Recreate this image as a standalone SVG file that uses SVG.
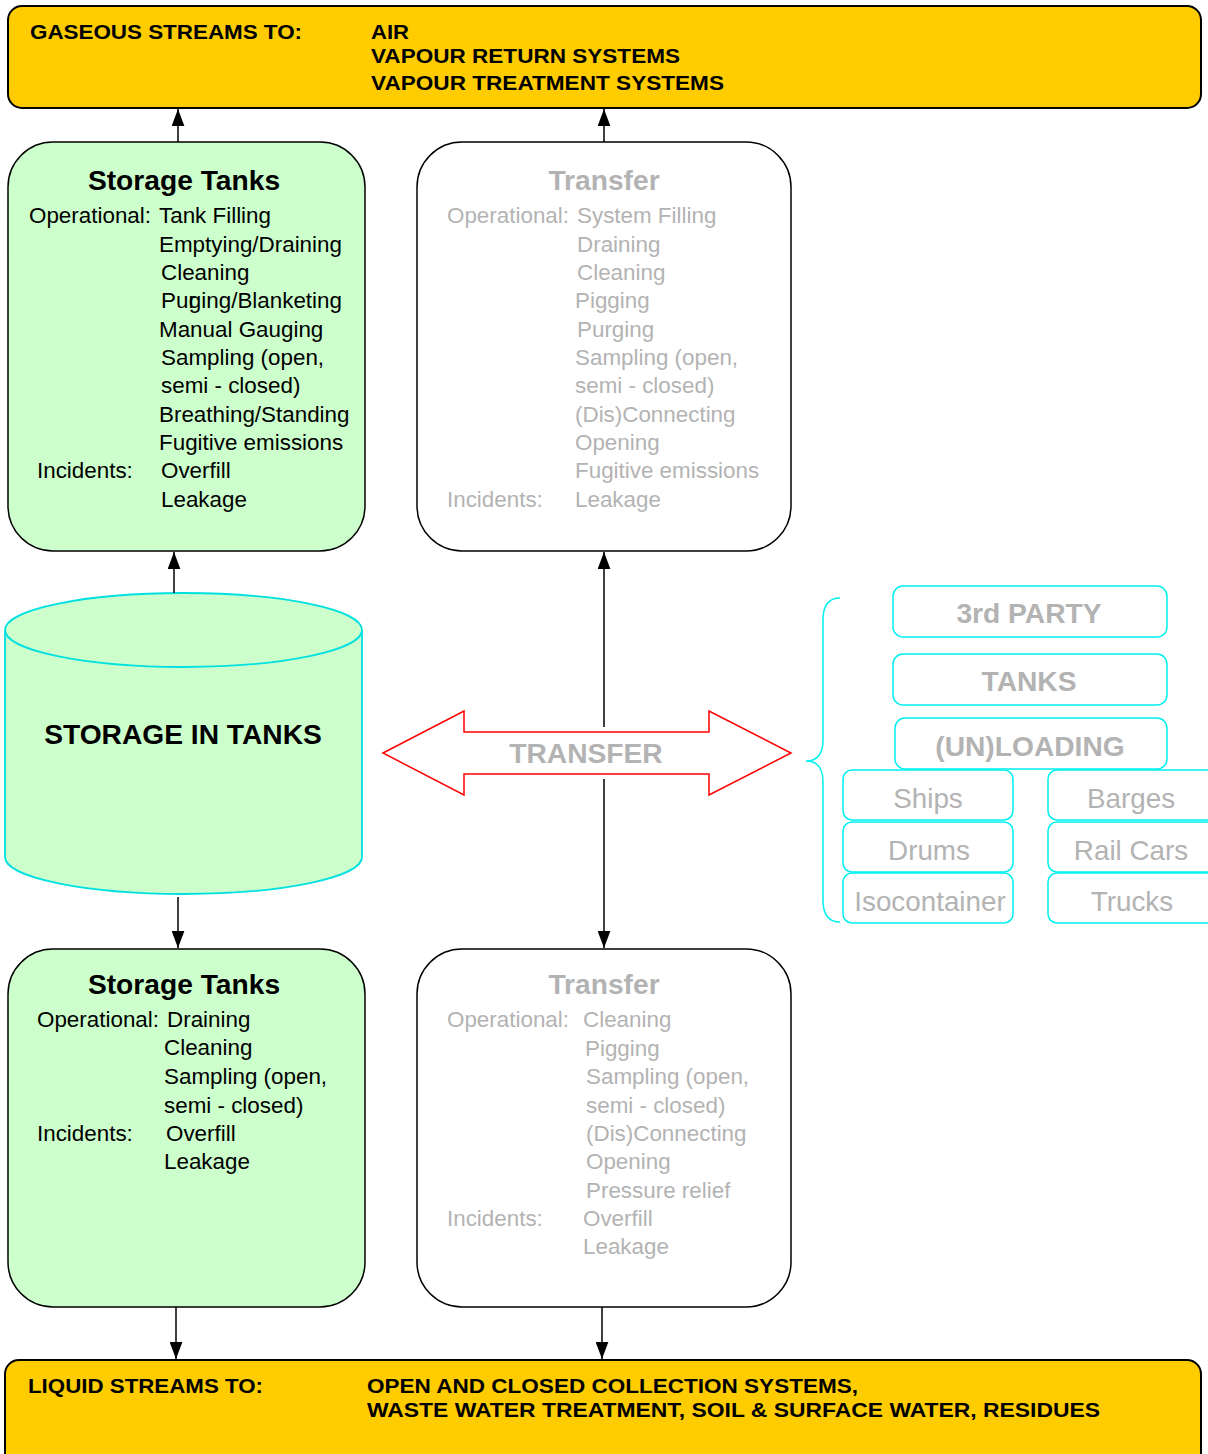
<svg xmlns="http://www.w3.org/2000/svg" width="1208" height="1454" viewBox="0 0 1208 1454">
<defs>
<marker id="ah" markerUnits="userSpaceOnUse" markerWidth="17" markerHeight="13" refX="16" refY="6" orient="auto" viewBox="0 0 16 12">
<path d="M0,0 L16,6 L0,12 z" fill="#000"/>
</marker>
<style>
.hdr{font-family:"Liberation Sans",Arial,sans-serif;font-weight:bold;font-size:21px;fill:#000}
.ttl{font-family:"Liberation Sans",Arial,sans-serif;font-weight:bold;font-size:28.2px;text-anchor:middle}
.bd{font-family:"Liberation Sans",Arial,sans-serif;font-size:22.4px}
.blk{fill:#000}
.gry{fill:#B3B3B3}
.grn{fill:#CCFFCC;stroke:#000;stroke-width:1.5}
.wht{fill:#FFFFFF;stroke:#000;stroke-width:1.5}
.yel{fill:#FFCC00;stroke:#000;stroke-width:2}
.cy{fill:#FFFFFF;stroke:#00F0F0;stroke-width:1.5}
.cyt{font-family:"Liberation Sans",Arial,sans-serif;font-size:27.8px;fill:#B3B3B3;text-anchor:middle}
.cytb{font-family:"Liberation Sans",Arial,sans-serif;font-weight:bold;font-size:28.2px;fill:#B3B3B3;text-anchor:middle}
.conn{stroke:#000;stroke-width:1.5;fill:none;marker-end:url(#ah)}
</style>
</defs>
<rect width="1208" height="1454" fill="#FFFFFF"/>

<g id="gaseous">
<rect class="yel" x="8" y="6" width="1193" height="102" rx="14"/>
<text class="hdr" x="30" y="39" textLength="272" lengthAdjust="spacingAndGlyphs">GASEOUS STREAMS TO:</text>
<text class="hdr" x="371" y="39" textLength="38" lengthAdjust="spacingAndGlyphs">AIR</text>
<text class="hdr" x="371" y="63" textLength="309" lengthAdjust="spacingAndGlyphs">VAPOUR RETURN SYSTEMS</text>
<text class="hdr" x="371" y="90" textLength="353" lengthAdjust="spacingAndGlyphs">VAPOUR TREATMENT SYSTEMS</text>
</g>

<g id="storage-tanks-top">
<rect class="grn" x="8" y="142" width="357" height="409" rx="45"/>
<text class="ttl blk" x="184" y="190">Storage Tanks</text>
<g class="bd blk">
<text x="29" y="223">Operational: </text>
<text x="159" y="223">Tank Filling</text>
<text x="159" y="252">Emptying/Draining</text>
<text x="161" y="280">Cleaning</text>
<text x="161" y="308" dx="0 0 0 -7">Purging/Blanketing</text>
<text x="159" y="337">Manual Gauging</text>
<text x="161" y="365">Sampling (open,</text>
<text x="161" y="393">semi - closed)</text>
<text x="159" y="422">Breathing/Standing</text>
<text x="159" y="450">Fugitive emissions</text>
<text x="37" y="478">Incidents:</text>
<text x="161" y="478">Overfill</text>
<text x="161" y="507">Leakage</text>
</g>
</g>

<g id="transfer-top">
<rect class="wht" x="417" y="142" width="374" height="409" rx="45"/>
<text class="ttl gry" x="604" y="190">Transfer</text>
<g class="bd gry">
<text x="447" y="223">Operational:</text>
<text x="577" y="223">System Filling</text>
<text x="577" y="252">Draining</text>
<text x="577" y="280">Cleaning</text>
<text x="575" y="308">Pigging</text>
<text x="577" y="337">Purging</text>
<text x="575" y="365">Sampling (open,</text>
<text x="575" y="393">semi - closed)</text>
<text x="575" y="422">(Dis)Connecting</text>
<text x="575" y="450">Opening</text>
<text x="575" y="478">Fugitive emissions</text>
<text x="447" y="507">Incidents:</text>
<text x="575" y="507">Leakage</text>
</g>
</g>

<g id="storage-in-tanks">
<path d="M5,630 L5,857 A178.5,37 0 0 0 362,857 L362,630" fill="#CCFFCC" stroke="#00E0E0" stroke-width="1.8"/>
<ellipse cx="183.5" cy="630" rx="178.5" ry="37" fill="#CCFFCC" stroke="#00E0E0" stroke-width="1.8"/>
<text x="183" y="744" font-family="Liberation Sans, Arial, sans-serif" font-weight="bold" font-size="28.2" text-anchor="middle" fill="#000">STORAGE IN TANKS</text>
</g>

<g id="transfer-arrow">
<polygon points="383,753 464,711 464,732 709,732 709,711 791,753 709,795 709,774 464,774 464,795" fill="#FFFFFF" stroke="#FF0000" stroke-width="1.5"/>
<text x="586" y="763" font-family="Liberation Sans, Arial, sans-serif" font-weight="bold" font-size="28.2" text-anchor="middle" fill="#B3B3B3">TRANSFER</text>
</g>

<g id="third-party">
<path d="M840,598 Q823,598 823,620 L823,740 Q823,761 806,761 Q823,761 823,782 L823,900 Q823,922 840,922" fill="none" stroke="#00F0F0" stroke-width="1.5"/>
<rect class="cy" x="893" y="586" width="274" height="51" rx="10"/>
<text class="cytb" x="1029" y="623">3rd PARTY</text>
<rect class="cy" x="893" y="654" width="274" height="51" rx="10"/>
<text class="cytb" x="1029" y="691">TANKS</text>
<rect class="cy" x="895" y="718" width="272" height="51" rx="10"/>
<text class="cytb" x="1030" y="756">(UN)LOADING</text>
<rect class="cy" x="843" y="770" width="170" height="50" rx="9"/>
<text class="cyt" x="928" y="808">Ships</text>
<rect class="cy" x="1048" y="770" width="175" height="50" rx="9"/>
<text class="cyt" x="1131" y="808">Barges</text>
<rect class="cy" x="843" y="822" width="170" height="50" rx="9"/>
<text class="cyt" x="929" y="860">Drums</text>
<rect class="cy" x="1048" y="822" width="175" height="50" rx="9"/>
<text class="cyt" x="1131" y="860">Rail Cars</text>
<rect class="cy" x="843" y="873" width="170" height="50" rx="9"/>
<text class="cyt" x="930" y="911">Isocontainer</text>
<rect class="cy" x="1048" y="873" width="175" height="50" rx="9"/>
<text class="cyt" x="1132" y="911">Trucks</text>
</g>

<g id="storage-tanks-bottom">
<rect class="grn" x="8" y="949" width="357" height="358" rx="45"/>
<text class="ttl blk" x="184" y="994">Storage Tanks</text>
<g class="bd blk">
<text x="37" y="1027">Operational:</text>
<text x="167" y="1027">Draining</text>
<text x="164" y="1055">Cleaning</text>
<text x="164" y="1084">Sampling (open,</text>
<text x="164" y="1113">semi  - closed)</text>
<text x="37" y="1141">Incidents:</text>
<text x="166" y="1141">Overfill</text>
<text x="164" y="1169">Leakage</text>
</g>
</g>

<g id="transfer-bottom">
<rect class="wht" x="417" y="949" width="374" height="358" rx="45"/>
<text class="ttl gry" x="604" y="994">Transfer</text>
<g class="bd gry">
<text x="447" y="1027">Operational:</text>
<text x="583" y="1027">Cleaning</text>
<text x="585" y="1056">Pigging</text>
<text x="586" y="1084">Sampling (open,</text>
<text x="586" y="1113">semi - closed)</text>
<text x="586" y="1141">(Dis)Connecting</text>
<text x="586" y="1169">Opening</text>
<text x="586" y="1198">Pressure relief</text>
<text x="447" y="1226">Incidents:</text>
<text x="583" y="1226">Overfill</text>
<text x="583" y="1254">Leakage</text>
</g>
</g>

<g id="liquid">
<rect class="yel" x="5" y="1360" width="1196" height="120" rx="14"/>
<text class="hdr" x="28" y="1393" textLength="235" lengthAdjust="spacingAndGlyphs">LIQUID STREAMS TO:</text>
<text class="hdr" x="367" y="1393" textLength="491" lengthAdjust="spacingAndGlyphs">OPEN AND CLOSED COLLECTION SYSTEMS,</text>
<text class="hdr" x="367" y="1417" textLength="733" lengthAdjust="spacingAndGlyphs">WASTE WATER TREATMENT, SOIL &amp; SURFACE WATER, RESIDUES</text>
</g>

<g id="connectors">
<line class="conn" x1="178" y1="142" x2="178" y2="109"/>
<line class="conn" x1="604" y1="142" x2="604" y2="109"/>
<line class="conn" x1="174" y1="593" x2="174" y2="552"/>
<line class="conn" x1="604" y1="727" x2="604" y2="552"/>
<line class="conn" x1="178" y1="897" x2="178" y2="948"/>
<line class="conn" x1="604" y1="779" x2="604" y2="948"/>
<line class="conn" x1="176" y1="1307" x2="176" y2="1359"/>
<line class="conn" x1="602" y1="1307" x2="602" y2="1359"/>
</g>
</svg>
